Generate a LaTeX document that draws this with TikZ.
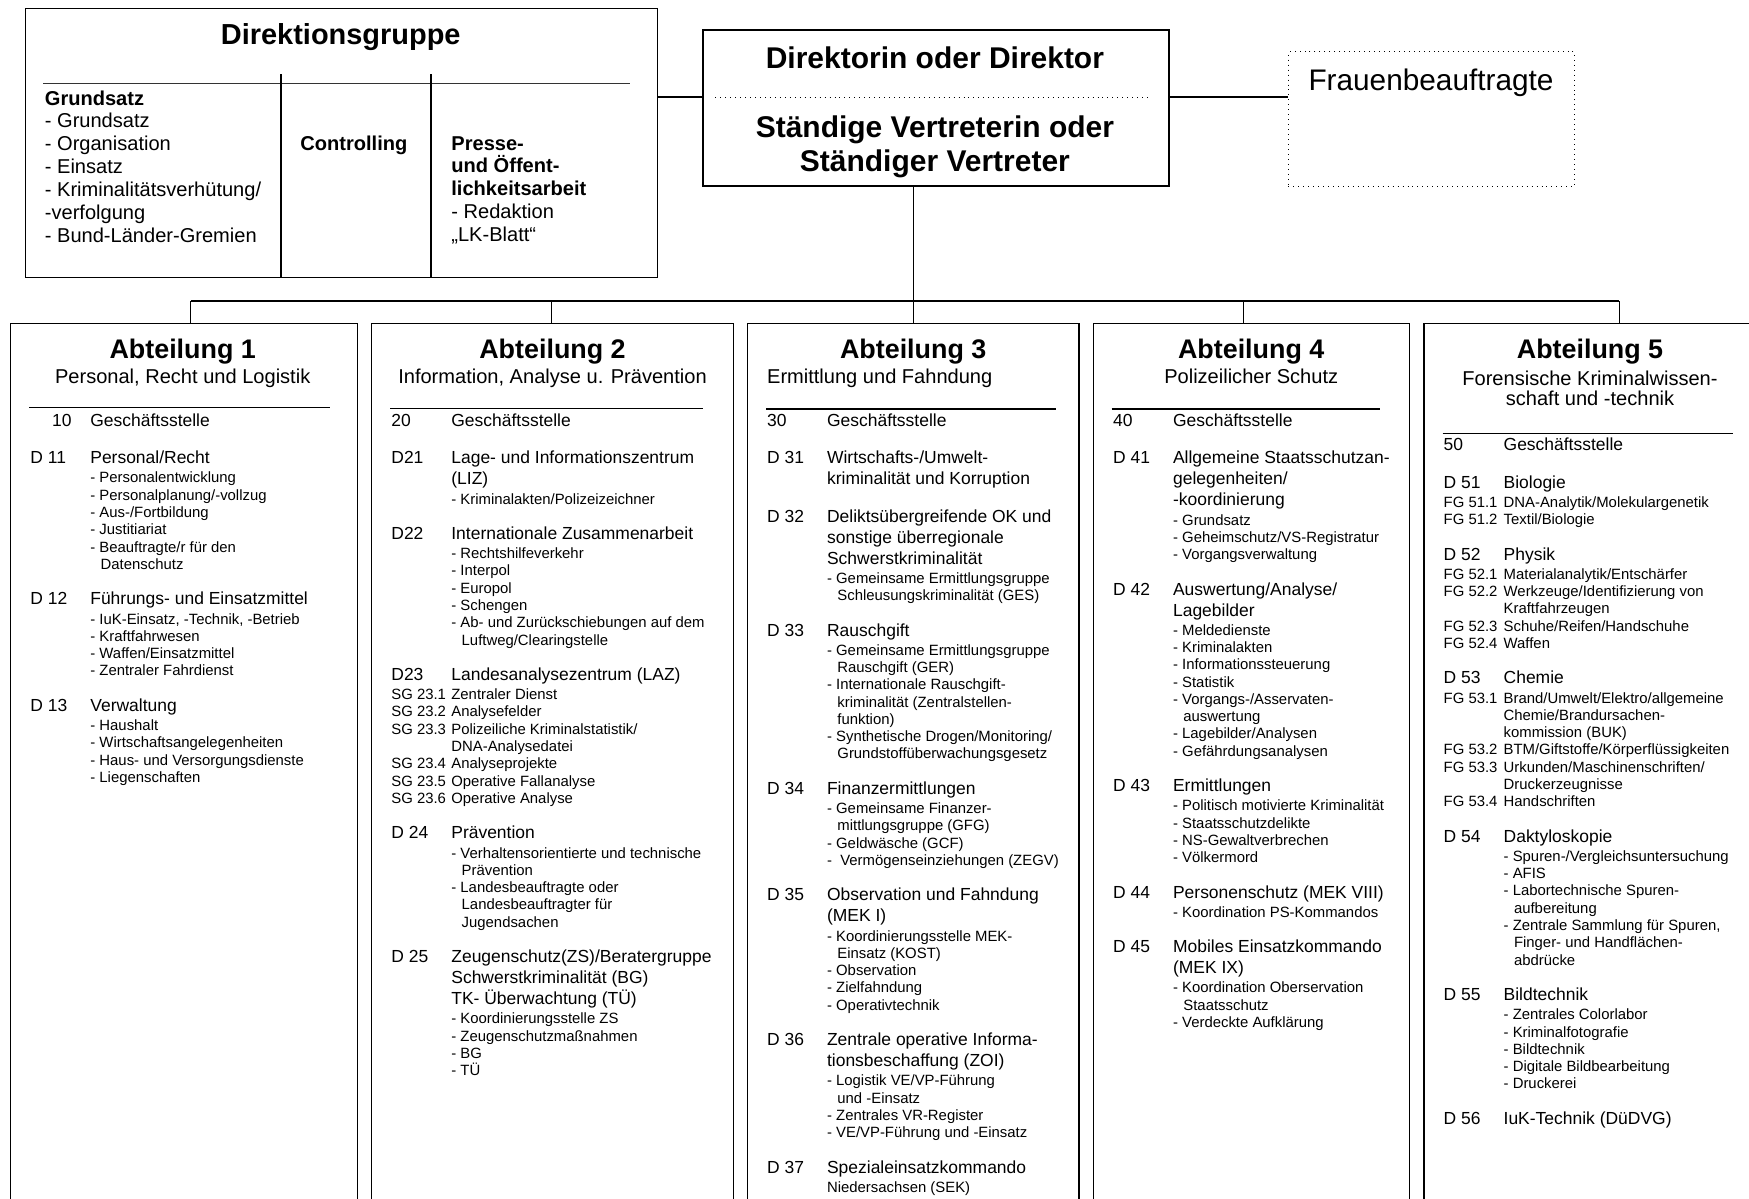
\documentclass[tikz,border=0pt]{standalone}
\usepackage{fontspec}
\setmainfont{Liberation Sans}
\usepackage{tikz}
\newlength\codew
\setlength\codew{29pt}
\newcommand{\dez}[2]{\fontsize{8.45}{10.16}\selectfont\raggedright\hangindent=\codew\hangafter=1\noindent\makebox[\codew][l]{#1}#2\par\vspace{0.9pt}}
\newcommand{\auf}[1]{\fontsize{7.2}{8.36}\selectfont\raggedright\hangindent=\dimexpr\codew+5pt\relax\hangafter=1\noindent\hspace*{\codew}- #1\par}
\newcommand{\sgr}[2]{\fontsize{7.2}{8.36}\selectfont\raggedright\hangindent=\codew\hangafter=1\noindent\makebox[\codew][l]{#1}#2\par}
\newcommand{\dgap}{\vspace{7pt}}

\begin{document}
\begin{tikzpicture}[x=0.017cm,y=-0.017cm,
  kasten/.style={draw,line width=0.7pt,inner sep=0pt,anchor=north west},
  abt/.style={kasten,minimum height=15.4cm},
  linie/.style={line width=0.7pt},
  strich/.style={line width=0.5pt},
  titel/.style={font=\fontsize{13}{15}\selectfont\bfseries,inner sep=0pt,anchor=base},
  untertitel/.style={font=\fontsize{9.7}{10}\selectfont,inner sep=0pt,anchor=base},
  leitung/.style={font=\fontsize{14.5}{15}\selectfont\bfseries,inner sep=0pt,anchor=base},
  dgtext/.style={font=\fontsize{9.7}{11.05}\selectfont,inner sep=0pt,anchor=base west,text width=5cm,align=flush left},
  spalte/.style={inner sep=0pt,anchor=base west,text width=5.6cm,align=flush left}]
\useasboundingbox (0,0) rectangle (1749,1198);
\clip (0,0) rectangle (1749,1198);

\node[kasten,minimum width=10.75cm,minimum height=4.573cm] (dgr) at (24.5,8) {};
\node[kasten,line width=1pt,minimum width=7.925cm,minimum height=2.655cm] (dir) at (701.8,28.8) {};
\node[kasten,line width=0.4pt,dotted,minimum width=4.862cm,minimum height=2.288cm] (fb) at (1288,51.4) {};

\node(dgrtitel)[titel,font=\fontsize{14}{16}\selectfont\bfseries] at (340.75,44.2) {Direktionsgruppe};
\draw[strich,black!80] (43.2,83.5) -- (630,83.5);
\draw[strich] (281,74.2) -- (281,0 |- dgr.south);
\draw[strich] (431,74.2) -- (431,0 |- dgr.south);
\node(grundsatz)[dgtext] at (44.5,105) {\textbf{Grundsatz}\\- Grundsatz\\- Organisation\\- Einsatz\\- Kriminalitätsverhütung/\\-verfolgung\\- Bund-Länder-Gremien};
\node(controlling)[dgtext] at (300,150) {\textbf{Controlling}};
\node(presse)[dgtext] at (451,150) {\textbf{Presse-}\\\textbf{und Öffent-}\\\textbf{lichkeitsarbeit}\\- Redaktion\\„LK-Blatt“};

\node(dirtext)[leitung] at (934.9,68.5) {Direktorin oder Direktor};
\draw[line width=0.4pt,dotted] (715.4,97) -- (1150,97);
\node(vertr)[leitung] at (934.9,137.5) {Ständige Vertreterin oder};
\node(vertr2)[leitung,yshift=-16.2pt] at (vertr.base) {Ständiger Vertreter};
\node(fbtext)[font=\fontsize{14.4}{16}\selectfont,inner sep=0pt,anchor=base] at (1431,90.8) {Frauenbeauftragte};

\coordinate (mitte) at (0,97);
\draw[linie] (dgr.east |- mitte) -- (dir.west |- mitte);
\draw[linie] (dir.east |- mitte) -- (fb.west |- mitte);

\node[abt,minimum width=5.894cm] (a1) at (10,323) {};
\node[abt,minimum width=6.149cm] (a2) at (371,323) {};
\node[abt,minimum width=5.637cm] (a3) at (746.7,323) {};
\node[abt,minimum width=5.377cm] (a4) at (1092.7,323) {};
\node[abt,minimum width=5.673cm] (a5) at (1423.3,323) {};

\coordinate (bus) at (0,301);
\draw[linie] (a3.north |- dir.south) -- (a3.north);
\draw[linie] (190.7,0 |- bus) -- (1619.3,0 |- bus);
\foreach \x in {190.7,551.7,1243.3,1619.3}
  \draw[linie] (\x,0 |- bus) -- (\x,0 |- a1.north);

\node(a1titel)[titel] at (182.7,358) {Abteilung 1};
\node(a1unter)[untertitel,yshift=-12.3pt] at (a1titel.base) {Personal, Recht und Logistik};
\draw[strich] (29.3,407.7) -- (330,407.7);
\node(a1liste)[spalte] at (30,426.5) {%
\dez{\hspace*{10.5pt}10}{Geschäftsstelle}\dgap
\dez{D 11}{Personal/Recht}
\auf{Personalentwicklung}
\auf{Personalplanung/-vollzug}
\auf{Aus-/Fortbildung}
\auf{Justitiariat}
\auf{Beauftragte/r für den\newline Datenschutz}\dgap
\dez{D 12}{Führungs- und Einsatzmittel}
\auf{IuK-Einsatz, -Technik, -Betrieb}
\auf{Kraftfahrwesen}
\auf{Waffen/Einsatzmittel}
\auf{Zentraler Fahrdienst}\dgap
\dez{D 13}{Verwaltung}
\auf{Haushalt}
\auf{Wirtschaftsangelegenheiten}
\auf{Haus- und Versorgungsdienste}
\auf{Liegenschaften}};

\node(a2titel)[titel] at (552.5,358) {Abteilung 2};
\node(a2unter)[untertitel,yshift=-12.3pt] at (a2titel.base) {Information, Analyse u. Prävention};
\draw[strich] (390,408.3) -- (702.7,408.3);
\node(a2liste)[spalte] at (391,426.5) {%
\dez{20}{Geschäftsstelle}\dgap
\dez{D21}{Lage- und Informationszentrum\newline(LIZ)}
\auf{Kriminalakten/Polizeizeichner}\dgap
\dez{D22}{Internationale Zusammenarbeit}
\auf{Rechtshilfeverkehr}
\auf{Interpol}
\auf{Europol}
\auf{Schengen}
\auf{Ab- und Zurückschiebungen auf dem\newline Luftweg/Clearingstelle}\dgap
\dez{D23}{Landesanalysezentrum (LAZ)}
\sgr{SG 23.1}{Zentraler Dienst}
\sgr{SG 23.2}{Analysefelder}
\sgr{SG 23.3}{Polizeiliche Kriminalstatistik/\newline DNA-Analysedatei}
\sgr{SG 23.4}{Analyseprojekte}
\sgr{SG 23.5}{Operative Fallanalyse}
\sgr{SG 23.6}{Operative Analyse}\dgap
\dez{D 24}{Prävention}
\auf{Verhaltensorientierte und technische\newline Prävention}
\auf{Landesbeauftragte oder\newline Landesbeauftragter für\newline Jugendsachen}\dgap
\dez{D 25}{Zeugenschutz(ZS)/Beratergruppe\newline Schwerstkriminalität (BG)\newline TK- Überwachtung (TÜ)}
\auf{Koordinierungsstelle ZS}
\auf{Zeugenschutzmaßnahmen}
\auf{BG}
\auf{TÜ}};

\node(a3titel)[titel] at (913.2,358) {Abteilung 3};
\node(a3unter)[untertitel,anchor=base west] at (766.7,383.4) {Ermittlung und Fahndung};
\draw[strich] (766,409) -- (1056,409);
\node(a3liste)[spalte] at (766.7,426.5) {%
\dez{30}{Geschäftsstelle}\dgap
\dez{D 31}{Wirtschafts-/Umwelt-\newline kriminalität und Korruption}\dgap
\dez{D 32}{Deliktsübergreifende OK und\newline sonstige überregionale\newline Schwerstkriminalität}
\auf{Gemeinsame Ermittlungsgruppe\newline Schleusungskriminalität (GES)}\dgap
\dez{D 33}{Rauschgift}
\auf{Gemeinsame Ermittlungsgruppe\newline Rauschgift (GER)}
\auf{Internationale Rauschgift-\newline kriminalität (Zentralstellen-\newline funktion)}
\auf{Synthetische Drogen/Monitoring/\newline Grundstoffüberwachungsgesetz}\dgap
\dez{D 34}{Finanzermittlungen}
\auf{Gemeinsame Finanzer-\newline mittlungsgruppe (GFG)}
\auf{Geldwäsche (GCF)}
\auf{\ Vermögenseinziehungen (ZEGV)}\dgap
\dez{D 35}{Observation und Fahndung\newline(MEK I)}
\auf{Koordinierungsstelle MEK-\newline Einsatz (KOST)}
\auf{Observation}
\auf{Zielfahndung}
\auf{Operativtechnik}\dgap
\dez{D 36}{Zentrale operative Informa-\newline tionsbeschaffung (ZOI)}
\auf{Logistik VE/VP-Führung\newline und -Einsatz}
\auf{Zentrales VR-Register}
\auf{VE/VP-Führung und -Einsatz}\dgap
\dez{D 37}{Spezialeinsatzkommando}
\sgr{}{Niedersachsen (SEK)}};

\node(a4titel)[titel] at (1251.2,358) {Abteilung 4};
\node(a4unter)[untertitel,yshift=-12.3pt] at (a4titel.base) {Polizeilicher Schutz};
\draw[strich] (1111.7,409) -- (1380,409);
\node(a4liste)[spalte] at (1112.7,426.5) {%
\dez{40}{Geschäftsstelle}\dgap
\dez{D 41}{Allgemeine Staatsschutzan-\newline gelegenheiten/\newline -koordinierung}
\auf{Grundsatz}
\auf{Geheimschutz/VS-Registratur}
\auf{Vorgangsverwaltung}\dgap
\dez{D 42}{Auswertung/Analyse/\newline Lagebilder}
\auf{Meldedienste}
\auf{Kriminalakten}
\auf{Informationssteuerung}
\auf{Statistik}
\auf{Vorgangs-/Asservaten-\newline auswertung}
\auf{Lagebilder/Analysen}
\auf{Gefährdungsanalysen}\dgap
\dez{D 43}{Ermittlungen}
\auf{Politisch motivierte Kriminalität}
\auf{Staatsschutzdelikte}
\auf{NS-Gewaltverbrechen}
\auf{Völkermord}\dgap
\dez{D 44}{Personenschutz (MEK VIII)}
\auf{Koordination PS-Kommandos}\dgap
\dez{D 45}{Mobiles Einsatzkommando\newline(MEK IX)}
\auf{Koordination Oberservation\newline Staatsschutz}
\auf{Verdeckte Aufklärung}};

\node(a5titel)[titel] at (1590,358) {Abteilung 5};
\node(a5unter)[untertitel,yshift=-13.2pt] at (a5titel.base) {Forensische Kriminalwissen-};
\node(a5unter2)[untertitel,yshift=-10pt] at (a5unter.base) {schaft und -technik};
\draw[strich] (1442.7,433.3) -- (1732.7,433.3);
\node(a5liste)[spalte] at (1443.3,450.9) {%
\dez{50}{Geschäftsstelle}\dgap
\dez{D 51}{Biologie}
\sgr{FG 51.1}{DNA-Analytik/Molekulargenetik}
\sgr{FG 51.2}{Textil/Biologie}\dgap
\dez{D 52}{Physik}
\sgr{FG 52.1}{Materialanalytik/Entschärfer}
\sgr{FG 52.2}{Werkzeuge/Identifizierung von\newline Kraftfahrzeugen}
\sgr{FG 52.3}{Schuhe/Reifen/Handschuhe}
\sgr{FG 52.4}{Waffen}\dgap
\dez{D 53}{Chemie}
\sgr{FG 53.1}{Brand/Umwelt/Elektro/allgemeine\newline Chemie/Brandursachen-\newline kommission (BUK)}
\sgr{FG 53.2}{BTM/Giftstoffe/Körperflüssigkeiten}
\sgr{FG 53.3}{Urkunden/Maschinenschriften/\newline Druckerzeugnisse}
\sgr{FG 53.4}{Handschriften}\dgap
\dez{D 54}{Daktyloskopie}
\auf{Spuren-/Vergleichsuntersuchung}
\auf{AFIS}
\auf{Labortechnische Spuren-\newline aufbereitung}
\auf{Zentrale Sammlung für Spuren,\newline Finger- und Handflächen-\newline abdrücke}\dgap
\dez{D 55}{Bildtechnik}
\auf{Zentrales Colorlabor}
\auf{Kriminalfotografie}
\auf{Bildtechnik}
\auf{Digitale Bildbearbeitung}
\auf{Druckerei}\dgap
\dez{D 56}{IuK-Technik (DüDVG)}};
\end{tikzpicture}
\end{document}
